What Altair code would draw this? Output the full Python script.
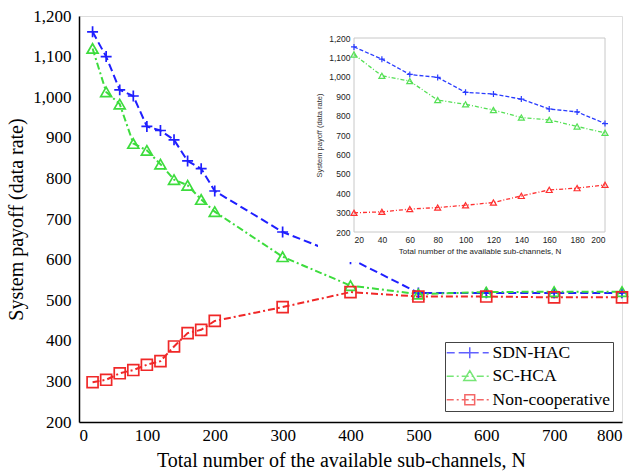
import altair as alt
import pandas as pd

# ---------------- data ----------------
series_names = ["SDN-HAC", "SC-HCA", "Non-cooperative"]

main_n = [20, 40, 60, 80, 100, 120, 140, 160, 180, 200, 300, 400, 500, 600, 700, 800]
main_sdn = [1161, 1100, 1018, 1003, 928, 918, 895, 843, 824, 769, 668, 602, 518, 518, 518, 518]
main_sc = [1120, 1013, 983, 886, 869, 835, 797, 783, 748, 718, 607, 536, 515, 520, 521, 521]
main_non = [298, 304, 320, 328, 341, 350, 386, 419, 427, 449, 483, 520, 509, 509, 507, 507]

inset_n = [20, 40, 60, 80, 100, 120, 140, 160, 180, 200]
inset_sdn = [1154, 1091, 1012, 997, 920, 911, 885, 834, 819, 759]
inset_sc = [1115, 1005, 978, 880, 858, 829, 790, 778, 744, 711]
inset_non = [299, 304, 318, 326, 338, 352, 386, 417, 426, 443]

main_x_ticks = [0, 100, 200, 300, 400, 500, 600, 700, 800]
main_y_ticks = [200, 300, 400, 500, 600, 700, 800, 900, 1000, 1100, 1200]
inset_x_ticks = [20, 40, 60, 80, 100, 120, 140, 160, 180, 200]
inset_y_ticks = [200, 300, 400, 500, 600, 700, 800, 900, 1000, 1100, 1200]

x_title = "Total number of the available sub-channels, N"
y_title = "System payoff (data rate)"

# ---------------- tables ----------------
def long_table(n, cols):
    rows = []
    for name, vals in zip(series_names, cols):
        for xv, yv in zip(n, vals):
            rows.append({"N": xv, "payoff": yv, "series": name})
    return pd.DataFrame(rows)

main_df = long_table(main_n, [main_sdn, main_sc, main_non])
inset_df = long_table(inset_n, [inset_sdn, inset_sc, inset_non])

# ---------------- styles ----------------
W, H = 543, 406
colors = ["#1f1fff", "#3ddc3d", "#f02828"]
inset_colors = ["#2a3cff", "#55e055", "#ff3030"]
dashes = [[8, 4], [7, 3, 2, 3], [7, 3, 2, 3]]
inset_dashes = [[4, 2], [4, 2, 1, 2], [4, 2, 1, 2]]
plus_path = "M-1,0H1M0,-1V1"

SERIF = "Liberation Serif"
SANS = "Liberation Sans"

color_scale = alt.Scale(domain=series_names, range=colors)
inset_color_scale = alt.Scale(domain=series_names, range=inset_colors)

# ---------------- main plot ----------------
mx = alt.X("N:Q", scale=alt.Scale(domain=[0, 800], nice=False),
           axis=alt.Axis(values=main_x_ticks, format="d", title=x_title, orient="bottom",
                         labelFont=SERIF, labelFontSize=17, labelColor="black",
                         titleFont=SERIF, titleFontSize=20, titleFontWeight="normal",
                         titleColor="black", titlePadding=7, labelPadding=5, titleX=262,
                         ticks=False, domainColor="black", domainWidth=1.5, grid=False))
my = alt.Y("payoff:Q", scale=alt.Scale(domain=[200, 1200], nice=False),
           axis=alt.Axis(values=main_y_ticks, format=",d", title=y_title, orient="left",
                         labelFont=SERIF, labelFontSize=17, labelColor="black",
                         titleFont=SERIF, titleFontSize=20, titleFontWeight="normal",
                         titleColor="black", titlePadding=6, labelPadding=8,
                         ticks=False, domainColor="black", domainWidth=1.5, grid=False))

main_lines = alt.Chart(main_df).mark_line(strokeWidth=2).encode(
    x=mx, y=my,
    color=alt.Color("series:N", scale=color_scale, legend=None),
    strokeDash=alt.StrokeDash("series:N", scale=alt.Scale(domain=series_names, range=dashes), legend=None),
    detail="series:N",
)
main_points = alt.Chart(main_df).mark_point(filled=False, strokeWidth=1.7, size=120, opacity=1).encode(
    x=mx, y=my,
    color=alt.Color("series:N", scale=color_scale, legend=None),
    shape=alt.Shape("series:N", scale=alt.Scale(domain=series_names,
                                                range=[plus_path, "triangle-up", "square"]), legend=None),
)
main = alt.layer(main_lines, main_points)

# ---------------- inset background and frame ----------------
one = pd.DataFrame({"k": [0]})
inset_bg = alt.Chart(one).mark_rect(color="white").encode(
    x=alt.value(239), x2=alt.value(533), y=alt.value(6), y2=alt.value(246))
inset_frame = alt.Chart(one).mark_rect(filled=False, stroke="#c8c8c8", strokeWidth=1).encode(
    x=alt.value(275), x2=alt.value(526), y=alt.value(22), y2=alt.value(216))

# ---------------- inset plot ----------------
ix = alt.X("N:Q", scale=alt.Scale(domain=[20, 200], range=[275, 526], nice=False),
           axis=alt.Axis(values=inset_x_ticks, format="d", title=x_title, orient="bottom",
                         offset=-(H - 216), zindex=2, labelFont=SANS, labelFontSize=8.5,
                         labelColor="#222", titleFont=SANS, titleFontSize=8,
                         titleFontWeight="normal", titleColor="#222", titlePadding=4,
                         labelPadding=3, ticks=False, domain=False, grid=False))
iy = alt.Y("payoff:Q", scale=alt.Scale(domain=[200, 1200], range=[216, 22], nice=False),
           axis=alt.Axis(values=inset_y_ticks, format=",d", title=y_title, orient="left",
                         offset=-275, zindex=2, labelFont=SANS, labelFontSize=8.5,
                         labelColor="#222", titleFont=SANS, titleFontSize=7.5,
                         titleFontWeight="normal", titleColor="#333", titlePadding=5,
                         labelPadding=4, ticks=False, domain=False, grid=False))

inset_lines = alt.Chart(inset_df).mark_line(strokeWidth=1.3).encode(
    x=ix, y=iy,
    color=alt.Color("series:N", scale=inset_color_scale, legend=None),
    strokeDash=alt.StrokeDash("series:N", scale=alt.Scale(domain=series_names, range=inset_dashes), legend=None),
    detail="series:N",
)
inset_points = alt.Chart(inset_df).mark_point(filled=False, strokeWidth=1.2, size=36, opacity=1).encode(
    x=ix, y=iy,
    color=alt.Color("series:N", scale=inset_color_scale, legend=None),
    shape=alt.Shape("series:N", scale=alt.Scale(domain=series_names,
                                                range=[plus_path, "triangle-up", "triangle-up"]), legend=None),
)
inset = alt.layer(inset_lines, inset_points)

# ---------------- legend (line + marker symbols) ----------------
UNIT = 7.0  # px per path unit (sqrt(symbolSize)/2)

def dashed(pattern, x0=-3.29, x1=2.71):
    segs = []
    pos = x0
    i = 0
    while pos < x1 - 1e-6:
        length = pattern[i % len(pattern)] / UNIT
        end = min(pos + length, x1)
        if i % 2 == 0:
            segs.append(f"M{pos:.2f},0H{end:.2f}")
        pos = end
        i += 1
    return "".join(segs)

legend_markers = [
    "M-0.8,0H0.8M0,-0.8V0.8",
    "M0,-0.8L0.85,0.6L-0.85,0.6Z",
    "M-0.7,-0.7H0.7V0.7H-0.7Z",
]
legend_paths = [dashed(p) + m for p, m in zip(dashes, legend_markers)]

legend_opts = dict(orient="none", legendX=366, legendY=326, title=None,
                   strokeColor="#444", fillColor="white", padding=2,
                   labelFont=SERIF, labelFontSize=17.5, labelColor="black",
                   symbolSize=196, symbolStrokeWidth=1.5,
                   symbolOffset=14, labelOffset=14, rowPadding=4.5,
                   cornerRadius=0)

legend_layer = alt.Chart(main_df).transform_filter("false").mark_point(
    filled=False, strokeWidth=1.5).encode(
    color=alt.Color("series:N", scale=alt.Scale(domain=series_names, range=colors), title=None,
                    legend=alt.Legend(**legend_opts)),
    shape=alt.Shape("series:N", scale=alt.Scale(domain=series_names, range=legend_paths), title=None,
                    legend=alt.Legend(**legend_opts)),
)

chart = alt.layer(main, inset_bg, inset_frame, inset, legend_layer).resolve_scale(
    x="independent", y="independent", color="independent", shape="independent",
    strokeDash="independent",
).properties(
    width=W, height=H,
    autosize=alt.AutoSizeParams(type="none"),
    padding={"left": 79, "top": 16, "right": 15, "bottom": 50},
).configure_view(stroke="black", strokeWidth=1.5).configure(background="white")

chart.save("out.html", embed_options={"renderer": "svg", "actions": False})
